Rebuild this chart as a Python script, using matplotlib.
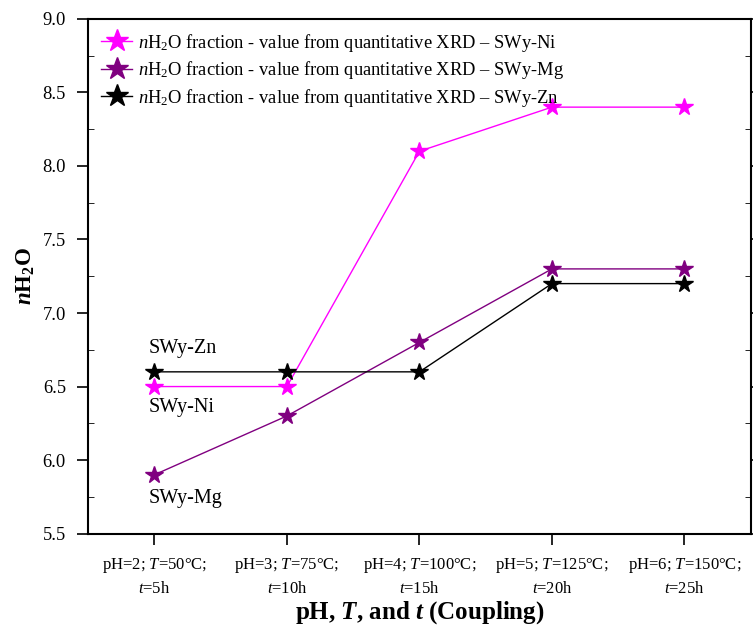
import matplotlib
matplotlib.use('Agg')
import matplotlib.pyplot as plt
from matplotlib.ticker import MultipleLocator

plt.rcParams['font.family'] = 'Liberation Serif'
plt.rcParams['mathtext.fontset'] = 'custom'
plt.rcParams['mathtext.rm'] = 'Liberation Serif'
plt.rcParams['mathtext.it'] = 'Liberation Serif:italic'
plt.rcParams['mathtext.bf'] = 'Liberation Serif:bold'
plt.rcParams['mathtext.bfit'] = 'Liberation Serif:italic:bold'

# Données
categories = ['pH=2; $T$=50°C;\n$t$=5h', 'pH=3; $T$=75°C;\n$t$=10h',
              'pH=4; $T$=100°C;\n$t$=15h', 'pH=5; $T$=125°C;\n$t$=20h',
              'pH=6; $T$=150°C;\n$t$=25h']
ni = [6.5, 6.5, 8.1, 8.4, 8.4]
mg = [5.9, 6.3, 6.8, 7.3, 7.3]
zn = [6.6, 6.6, 6.6, 7.2, 7.2]

x = list(range(len(categories)))

fig = plt.figure(figsize=(7.53, 6.3), dpi=100)
ax = fig.add_axes([0.117, 0.153, 0.880, 0.817])

base = r'$n$H$_2$O fraction - value from quantitative XRD – '
ax.plot(x, ni, color='#FF00FF', marker='*', markersize=13, lw=1, label=base + 'SWy-Ni')
ax.plot(x, mg, color='#800080', marker='*', markersize=13, lw=1, label=base + 'SWy-Mg')
ax.plot(x, zn, color='black', marker='*', markersize=13, lw=1, label=base + 'SWy-Zn')

ax.text(-0.04, 6.76, 'SWy-Zn', fontsize=14.5, va='center', ha='left')
ax.text(-0.04, 6.36, 'SWy-Ni', fontsize=14.5, va='center', ha='left')
ax.text(-0.04, 5.74, 'SWy-Mg', fontsize=14.5, va='center', ha='left')

ax.set_xlim(-0.5, 4.5)
ax.set_ylim(5.5, 9.0)
ax.set_xticks(x)
ax.set_xticklabels(categories, fontsize=12, linespacing=1.55)
ax.yaxis.set_major_locator(MultipleLocator(0.5))
ax.yaxis.set_minor_locator(MultipleLocator(0.25))
ax.tick_params(axis='y', labelsize=13.3)
ax.tick_params(axis='both', which='major', length=8, width=1.2, pad=8)
ax.tick_params(axis='y', which='minor', direction='in', length=4)
ax.tick_params(axis='y', which='both', right=True)
for s in ax.spines.values():
    s.set_linewidth(1.5)

ax.set_xlabel(r'pH, $\mathbfit{T}$, and $\mathbfit{t}$ (Coupling)', fontsize=18, fontweight='bold', labelpad=1)
ax.set_ylabel(r'$\mathbfit{n}$H$_\mathbf{2}$O', fontsize=16.5, fontweight='bold', labelpad=4)

ax.legend(loc='upper left', frameon=False, fontsize=13.3, handlelength=1.7,
          handletextpad=0.3, labelspacing=0.3, borderaxespad=0.3, markerscale=1.3)

fig.savefig('out.png', dpi=100)
